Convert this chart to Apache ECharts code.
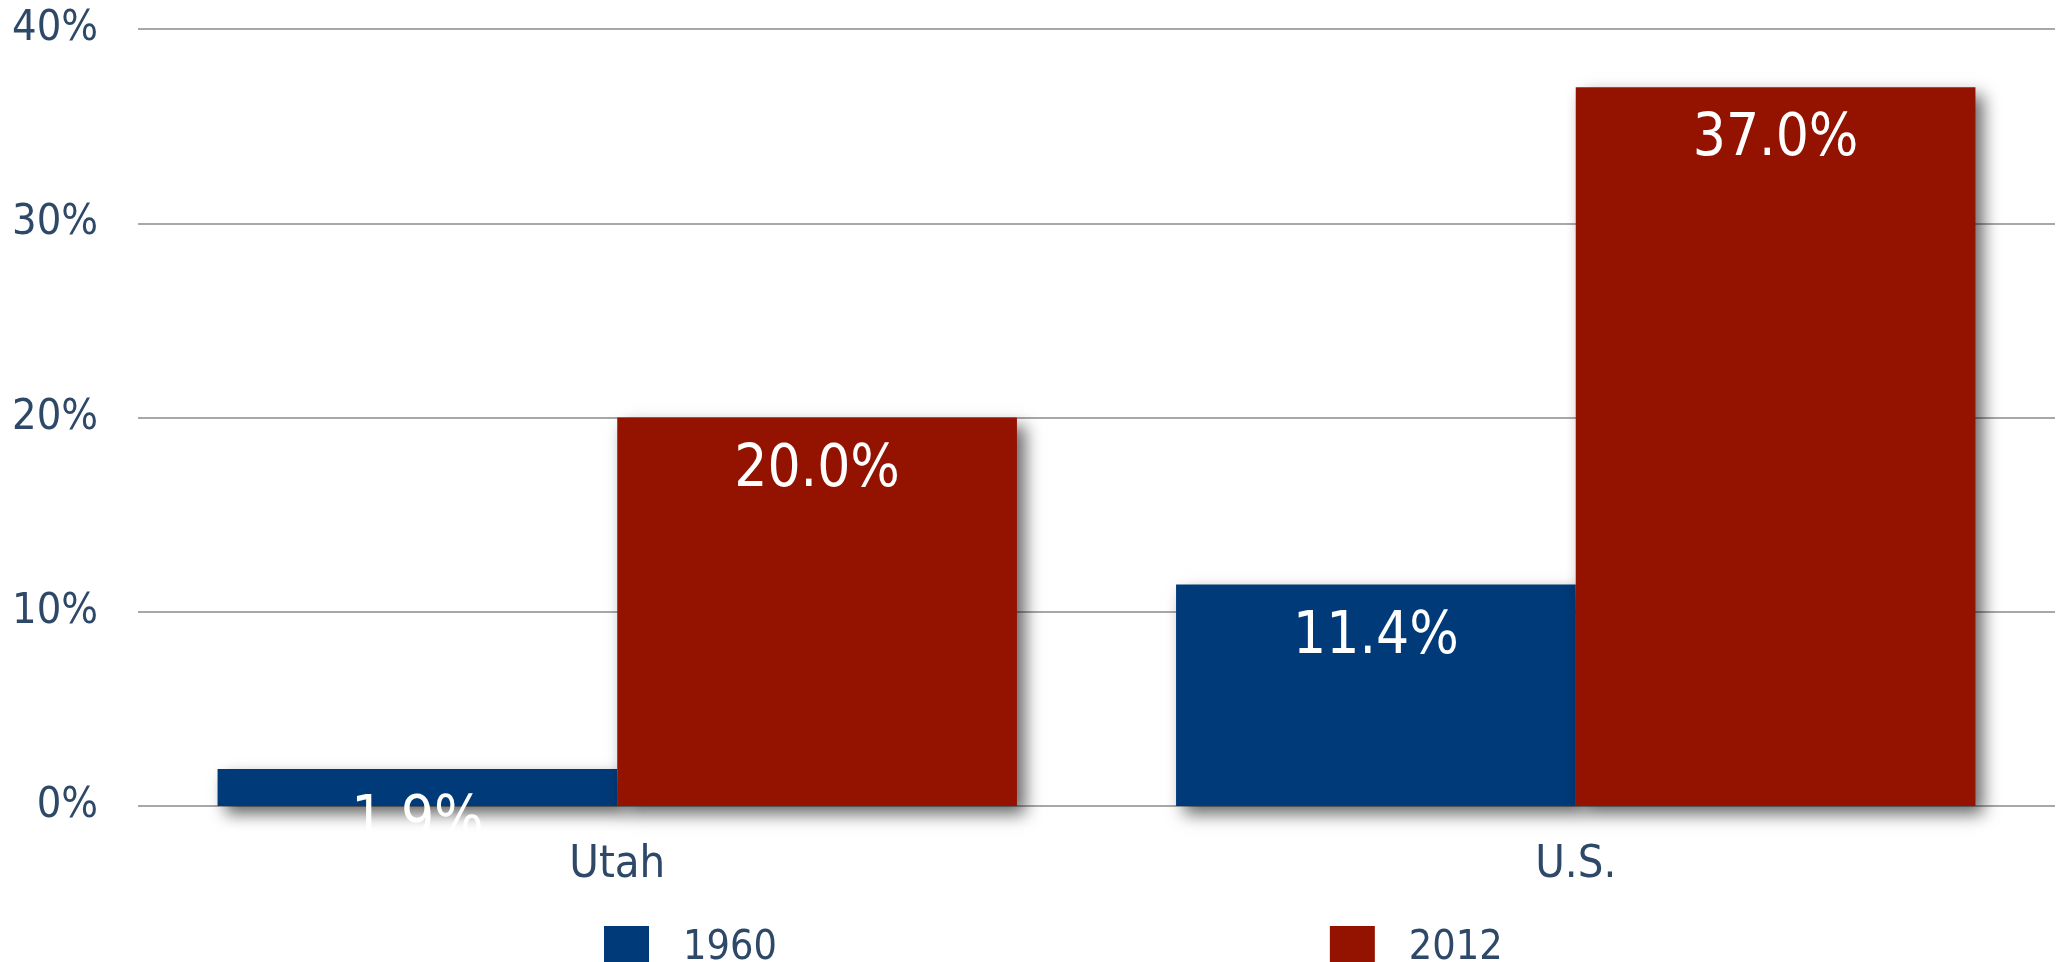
<!DOCTYPE html>
<html>
<head>
<meta charset="utf-8">
<script src="https://cdn.jsdelivr.net/npm/echarts@6/dist/echarts.min.js"></script>
<style>
    html, body { margin: 0; padding: 0; background: #fff; }
    #chart { width: 2065px; height: 962px; }
</style>
</head>
<body>
<div id="chart"></div>
<script>
// data
var categories = ['Utah', 'U.S.'];
var seriesNames = ['1960', '2012'];
var values1960 = [1.9, 11.4];
var values2012 = [20.0, 37.0];
var yTicks = [0, 10, 20, 30, 40];

var textColor = '#2e4868';
var fontName = '"DejaVu Sans Condensed", "Liberation Sans", sans-serif';

var barShadow = {
    shadowColor: 'rgba(0,0,0,0.6)',
    shadowBlur: 16,
    shadowOffsetX: 8,
    shadowOffsetY: 8
};

function barLabel() {
    return {
        show: true,
        position: 'insideTop',
        distance: 24,
        color: '#fff',
        fontFamily: fontName,
        fontSize: 58,
        formatter: function (p) { return p.value.toFixed(1) + '%'; }
    };
}

var myChart = echarts.init(document.getElementById('chart'));

var option = {
    backgroundColor: '#fff',
    textStyle: { fontFamily: fontName },
    grid: { left: 138, right: 10, top: 29, bottom: 156 },
    legend: {
        data: seriesNames,
        left: 599,
        top: 921,
        itemWidth: 45,
        itemHeight: 45,
        itemGap: 553,
        icon: 'rect',
        textStyle: { color: textColor, fontSize: 41, fontFamily: fontName, padding: [0, 0, 0, 29] }
    },
    xAxis: {
        type: 'category',
        data: categories,
        axisLine: { show: false },
        axisTick: { show: false },
        axisLabel: { color: textColor, fontSize: 45, fontFamily: fontName, margin: 37 }
    },
    yAxis: {
        type: 'value',
        min: yTicks[0],
        max: yTicks[yTicks.length - 1],
        interval: 10,
        axisLine: { show: false },
        axisTick: { show: false },
        axisLabel: {
            color: textColor, fontSize: 43, fontFamily: fontName, margin: 40,
            formatter: '{value}%'
        },
        splitLine: { lineStyle: { color: '#a8a8a8', width: 2 } }
    },
    series: [
        {
            name: seriesNames[0],
            type: 'bar',
            data: values1960,
            barGap: '0%',
            barCategoryGap: '16.6%',
            itemStyle: Object.assign({ color: '#013a78' }, barShadow),
            label: barLabel()
        },
        {
            name: seriesNames[1],
            type: 'bar',
            data: values2012,
            barGap: '0%',
            barCategoryGap: '16.6%',
            itemStyle: Object.assign({ color: '#941300' }, barShadow),
            label: barLabel()
        }
    ]
};
myChart.setOption(option);
</script>
</body>
</html>
